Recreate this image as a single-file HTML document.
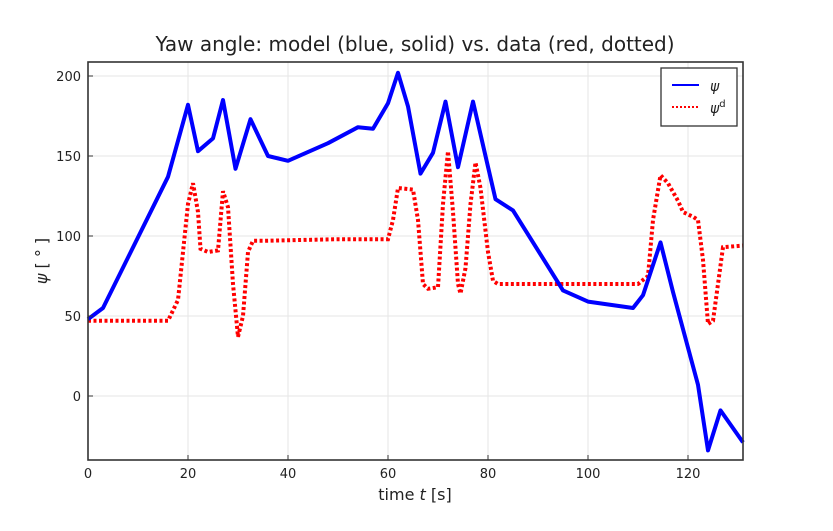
<!DOCTYPE html>
<html><head><meta charset="utf-8"><style>
body{margin:0;background:#fff;}
svg{display:block;font-family:"DejaVu Sans","Liberation Sans",sans-serif;}
</style></head><body>
<svg id="s" width="833" height="531" viewBox="0 0 833 531" xmlns="http://www.w3.org/2000/svg">
<rect width="833" height="531" fill="#fff"/>
<text x="415" y="51" font-size="20" text-anchor="middle" fill="#222">Yaw angle: model (blue, solid) vs. data (red, dotted)</text>
<g id="grid" stroke="#e6e6e6" stroke-width="1"></g>
<g id="lines"></g>
<rect x="88" y="62" width="655" height="398" fill="none" stroke="#333" stroke-width="1.6"/>
<g id="ticks" font-size="13" fill="#222"></g>
<text x="415" y="500" font-size="16" text-anchor="middle" fill="#222">time <tspan font-style="italic">t</tspan> [s]</text>
<text transform="translate(47,261) rotate(-90)" font-size="16" text-anchor="middle" fill="#222"><tspan font-style="italic">ψ</tspan> [ ° ]</text>
<rect x="661" y="68" width="76" height="58" fill="#fff" stroke="#333" stroke-width="1.3"/>
<line x1="672" y1="85" x2="699" y2="85" stroke="#0000ff" stroke-width="2"/>
<line x1="672" y1="107" x2="699" y2="107" stroke="#ff0000" stroke-width="2" stroke-dasharray="2 2"/>
<text x="710" y="91" font-size="14" font-style="italic" fill="#222">ψ</text>
<text x="710" y="113" font-size="14" font-style="italic" fill="#222">ψ<tspan font-size="10" dy="-6" font-style="normal">d</tspan></text>
</svg>
<script>
const X=t=>88+5*t, Y=v=>396-1.6*v;
const ns="http://www.w3.org/2000/svg";
const g=document.getElementById('grid'),tk=document.getElementById('ticks'),ln=document.getElementById('lines');
function el(p,n,a,txt){const e=document.createElementNS(ns,n);for(const k in a)e.setAttribute(k,a[k]);if(txt!==undefined)e.textContent=txt;p.appendChild(e);return e;}
for(let t=0;t<=120;t+=20){el(g,'line',{x1:X(t),x2:X(t),y1:62,y2:460});el(tk,'text',{x:X(t),y:478,'text-anchor':'middle'},t);el(tk,'line',{x1:X(t),x2:X(t),y1:460,y2:455,stroke:'#333'});}
for(let v=0;v<=200;v+=50){el(g,'line',{x1:88,x2:743,y1:Y(v),y2:Y(v)});el(tk,'text',{x:81,y:Y(v)+5,'text-anchor':'end'},v);el(tk,'line',{x1:88,x2:93,y1:Y(v),y2:Y(v),stroke:'#333'});}
const blue=[[0,48],[3,55],[16,137],[20,182],[22,153],[25,161],[27,185],[29.5,142],[32.5,173],[36,150],[40,147],[48,158],[54,168],[57,167],[60,183],[62,202],[64,181],[66.5,139],[69,152],[71.5,184],[74,143],[77,184],[79.5,150],[81.5,123],[85,116],[95,66],[100,59],[109,55],[111,63],[114.5,96],[117,65],[122,7],[124,-34],[126.5,-9],[131,-29]];
const red=[[0,47],[16,47],[18,60],[20,120],[21,133],[22,115],[22.5,92],[24,90],[26,91],[27,128],[28,118],[29,70],[30,37],[31,50],[32,90],[33,97],[35,97],[50,98],[60,98],[61,110],[62,130],[65,129],[66,110],[67,70],[68,67],[70,68],[71,120],[72,153],[73,115],[74,70],[74.5,64],[75.5,80],[76.5,120],[77.5,146],[78.5,130],[80,90],[81,72],[82,70],[110,70],[112,75],[113,110],[114.5,138],[116,133],[118,122],[119,115],[121,112],[122,110],[123,85],[124,45],[125,47],[126,70],[127,93],[131,94]];
const pts=a=>a.map(p=>X(p[0]).toFixed(1)+','+Y(p[1]).toFixed(1)).join(' ');
el(ln,'polyline',{points:pts(red),fill:'none',stroke:'#ff0000','stroke-width':4,'stroke-dasharray':'3 2.5'});
el(ln,'polyline',{points:pts(blue),fill:'none',stroke:'#0000ff','stroke-width':4,'stroke-linejoin':'round'});
</script>
</body></html>
